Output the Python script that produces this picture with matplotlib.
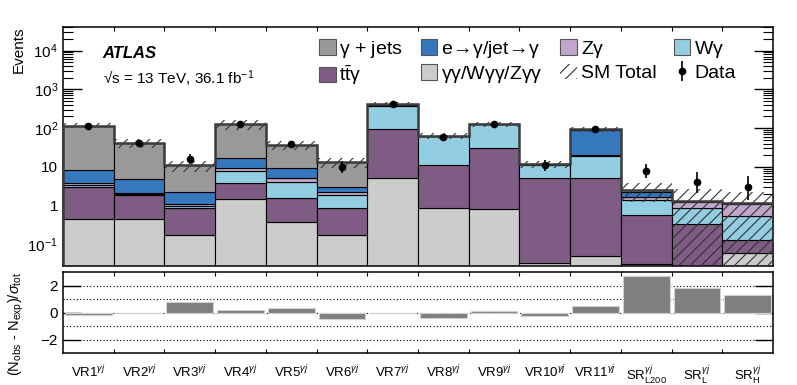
import numpy as np
import matplotlib
matplotlib.use('Agg')
import matplotlib.pyplot as plt
from matplotlib.patches import Patch
from matplotlib.ticker import FixedLocator, LogLocator, NullFormatter, FixedFormatter

plt.rcParams['font.family'] = ['Liberation Sans', 'DejaVu Sans']
plt.rcParams['mathtext.fontset'] = 'custom'
plt.rcParams['mathtext.rm'] = 'Liberation Sans'
plt.rcParams['mathtext.it'] = 'Liberation Sans:italic'
plt.rcParams['mathtext.bf'] = 'Liberation Sans:bold'
plt.rcParams['hatch.linewidth'] = 0.8

# ---------------- data ----------------
regions = [r'$\mathrm{VR1}^{\gamma j}$', r'$\mathrm{VR2}^{\gamma j}$', r'$\mathrm{VR3}^{\gamma j}$',
           r'$\mathrm{VR4}^{\gamma j}$', r'$\mathrm{VR5}^{\gamma j}$', r'$\mathrm{VR6}^{\gamma j}$',
           r'$\mathrm{VR7}^{\gamma j}$', r'$\mathrm{VR8}^{\gamma j}$', r'$\mathrm{VR9}^{\gamma j}$',
           r'$\mathrm{VR10}^{\gamma j}$', r'$\mathrm{VR11}^{\gamma j}$',
           r'$\mathrm{SR}^{\gamma j}_{\mathrm{L200}}$', r'$\mathrm{SR}^{\gamma j}_{\mathrm{L}}$',
           r'$\mathrm{SR}^{\gamma j}_{\mathrm{H}}$']

gg_vv  = [0.45, 0.45, 0.17, 1.49, 0.37, 0.17, 5.2, 0.89, 0.82, 0.033, 0.05, 0.03, 0.01, 0.059]
ttgam  = [2.65, 1.45, 0.72, 2.31, 1.23, 0.69, 88.0, 10.3, 29.0, 5.27, 5.05, 0.55, 0.32, 0.07]
wgam   = [0.30, 0.10, 0.11, 3.9, 2.6, 1.04, 287.0, 50.0, 95.0, 6.2, 14.4, 0.80, 0.53, 0.42]
zgam   = [0.45, 0.10, 0.10, 1.5, 0.9, 0.40, 8.0, 1.0, 1.0, 0.2, 0.5, 0.32, 0.40, 0.58]
fakes  = [4.65, 2.7, 1.15, 7.8, 4.1, 0.80, 15.0, 0.5, 0.6, 0.1, 72.0, 0.55, 0.04, 0.02]
gjets  = [106.5, 37.0, 8.75, 108.0, 27.8, 10.3, 12.0, 0.3, 0.6, 0.1, 1.0, 0.29, 0.03, 0.01]
sm_unc = [17, 11, 3.5, 33, 10, 4.0, 45, 12, 18, 2.5, 12, 1.3, 1.32, 1.15]

data        = [110, 42, 16, 130, 40, 10, 410, 58, 130, 11, 96, 8, 4, 3]
data_err_lo = [10.5, 6.5, 4.0, 11.4, 6.3, 3.1, 20.0, 7.6, 11.4, 3.3, 9.8, 2.8, 1.9, 1.6]
data_err_hi = [11.5, 7.5, 5.1, 12.4, 7.4, 4.3, 21.0, 8.6, 12.4, 4.4, 10.8, 3.9, 3.2, 2.9]

pulls = [-0.17, -0.07, 0.80, 0.17, 0.31, -0.48, -0.04, -0.41, 0.08, -0.24, 0.48, 2.67, 1.82, 1.33]

# ---------------- figure ----------------
fig = plt.figure(figsize=(7.97, 3.85), dpi=100)
ax = fig.add_axes([0.0790, 0.3091, 0.8909, 0.6208])
ax2 = fig.add_axes([0.0790, 0.0831, 0.8909, 0.2104])

n = len(regions)
x = np.arange(n)
edges = np.arange(n + 1) - 0.5

lab_gg = r'$\mathrm{\gamma\gamma/W\gamma\gamma/Z\gamma\gamma}$'
lab_tt = r'$\mathrm{t\bar{t}\gamma}$'
lab_w = r'$\mathrm{W\gamma}$'
lab_z = r'$\mathrm{Z\gamma}$'
lab_f = r'$\mathrm{e\!\rightarrow\!\gamma/jet\!\rightarrow\!\gamma}$'
lab_j = r'$\mathrm{\gamma}$ + jets'

layers = [
    (gg_vv, '#cccccc', lab_gg),
    (ttgam, '#7e5c84', lab_tt),
    (wgam, '#92cde1', lab_w),
    (zgam, '#c0a6c9', lab_z),
    (fakes, '#3578be', lab_f),
    (gjets, '#999999', lab_j),
]

bottom = np.full(n, 1e-3)
handles = {}
for vals, col, lab in layers:
    vals = np.asarray(vals, float)
    ax.bar(x, vals, width=1.0, bottom=bottom, color=col, edgecolor='black',
           linewidth=0.8, zorder=2)
    handles[lab] = Patch(facecolor=col, edgecolor='#555555', linewidth=0.8)
    bottom = bottom + vals

total = bottom
unc = np.asarray(sm_unc, float)
lo = np.maximum(total - unc, 1e-3)
hi = total + unc
ax.bar(x, hi - lo, width=1.0, bottom=lo, facecolor='none', edgecolor='#333333',
       hatch='///', linewidth=0, zorder=3)
ax.stairs(total, edges, color='#3c3c3c', linewidth=1.8, zorder=4)

eb = ax.errorbar(x, data, yerr=[data_err_lo, data_err_hi], fmt='o', color='black',
                 ms=4.5, elinewidth=1.2, capsize=0, zorder=5)

ax.set_yscale('log')
ax.set_xlim(-0.5, n - 0.5)
ax.set_ylim(0.0279, 4.04e4)
ax.yaxis.set_major_locator(FixedLocator([0.1, 1, 10, 100, 1e3, 1e4]))
ax.yaxis.set_major_formatter(FixedFormatter([r'$10^{-1}$', '1', '10', r'$10^{2}$', r'$10^{3}$', r'$10^{4}$']))
ax.yaxis.set_minor_locator(LogLocator(base=10, subs=np.arange(2, 10), numticks=20))
ax.yaxis.set_minor_formatter(NullFormatter())
ax.xaxis.set_major_locator(FixedLocator(edges[1:-1]))
ax.tick_params(axis='x', which='major', direction='in', length=3, top=True, bottom=True,
               labelbottom=False)
ax.tick_params(axis='y', which='major', direction='in', length=14, width=1, left=True,
               right=True, labelsize=11)
ax.tick_params(axis='y', which='minor', direction='in', length=7, width=0.8, left=True, right=True)
for sp in ax.spines.values():
    sp.set_linewidth(1.1)
ax.set_ylabel('Events', loc='top', fontsize=11)
ax.yaxis.set_label_coords(-0.052, 1.0)

ax.text(0.056, 0.887, 'ATLAS', transform=ax.transAxes, fontsize=12, fontweight='bold',
        fontstyle='italic', va='center', ha='left')
ax.text(0.056, 0.782, r'√s = 13 TeV, 36.1 fb$^{\mathrm{-1}}$', transform=ax.transAxes,
        fontsize=11, va='center', ha='left')

sm_handle = Patch(facecolor='none', edgecolor='#333333', hatch='///', linewidth=0)
leg_handles = [handles[lab_j], handles[lab_tt], handles[lab_f], handles[lab_gg],
               handles[lab_z], sm_handle, handles[lab_w], eb]
leg_labels = [lab_j, lab_tt, lab_f, lab_gg, lab_z, 'SM Total', lab_w, 'Data']
ax.legend(leg_handles, leg_labels, ncol=4, loc='upper left', bbox_to_anchor=(0.3606, 0.95),
          frameon=False, fontsize=14, borderpad=0, borderaxespad=0, handlelength=0.85,
          handleheight=0.85, handletextpad=0.2, columnspacing=0.9, labelspacing=0.2)

# ---------------- ratio panel ----------------
for v in [-2, -1, 0, 1, 2]:
    ax2.axhline(v, color='black', linestyle=(0, (1, 2)), linewidth=0.8, zorder=1)
ax2.bar(x, pulls, width=0.92, color='#7f7f7f', edgecolor='#d0d0d0', linewidth=0.8, zorder=2)
ax2.set_xlim(-0.5, n - 0.5)
ax2.set_ylim(-3, 3)
ax2.yaxis.set_major_locator(FixedLocator([-2, 0, 2]))
ax2.yaxis.set_major_formatter(FixedFormatter(['−2', '0', '2']))
ax2.xaxis.set_major_locator(FixedLocator(edges[1:-1]))
ax2.xaxis.set_major_formatter(NullFormatter())
ax2.xaxis.set_minor_locator(FixedLocator(x))
ax2.xaxis.set_minor_formatter(FixedFormatter(regions))
ax2.tick_params(axis='x', which='major', direction='in', length=3, top=True, bottom=True)
ax2.tick_params(axis='x', which='minor', length=0, pad=8, labelsize=9.5)
ax2.tick_params(axis='y', which='major', direction='in', length=13, width=1, left=True,
                right=True, labelsize=11)
for sp in ax2.spines.values():
    sp.set_linewidth(1.1)
ax2.set_ylabel(r'(N$_{\mathrm{obs}}$ - N$_{\mathrm{exp}}$)/$\sigma_{\mathrm{tot}}$', loc='top',
               fontsize=10.5)
ax2.yaxis.set_label_coords(-0.052, 1.0)

fig.savefig('out.png', dpi=100)
